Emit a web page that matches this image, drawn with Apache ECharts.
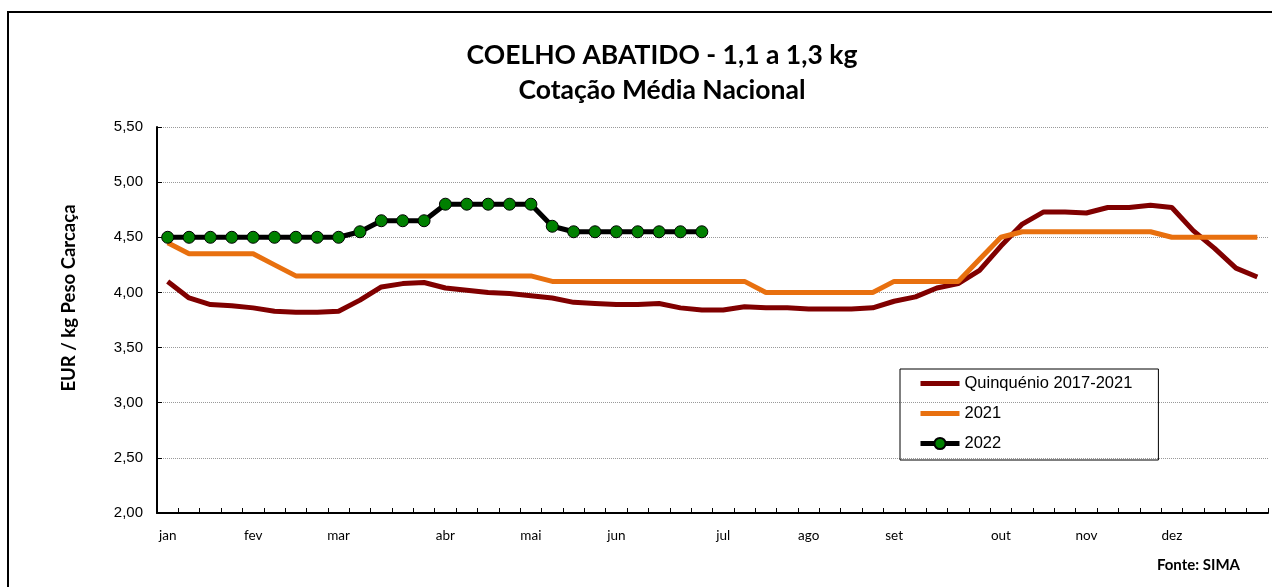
<!DOCTYPE html>
<html>
<head>
<meta charset="utf-8">
<script src="https://cdn.jsdelivr.net/npm/echarts@6/dist/echarts.min.js"></script>
<style>
html,body{margin:0;padding:0;background:#fff;}
#chart{width:1272px;height:587px;}
</style>
</head>
<body>
<div id="chart"></div>
<script>
// Weekly categories (52 weeks); month names on first week of each month
const weeks = ['jan','','','','fev','','','','mar','','','','','abr','','','','mai','','','','jun','','','','','jul','','','','ago','','','','set','','','','','out','','','','nov','','','','dez','','','',''];

const seriesNames = ['Quinquénio 2017-2021', '2021', '2022'];

const quinquenio = [4.10,3.95,3.89,3.88,3.86,3.83,3.82,3.82,3.83,3.93,4.05,4.08,4.09,4.04,4.02,4.00,3.99,3.97,3.95,3.91,3.90,3.89,3.89,3.90,3.86,3.84,3.84,3.87,3.86,3.86,3.85,3.85,3.85,3.86,3.92,3.96,4.04,4.08,4.20,4.42,4.62,4.73,4.73,4.72,4.77,4.77,4.79,4.77,4.56,4.40,4.22,4.14];

const y2021 = [4.45,4.35,4.35,4.35,4.35,4.25,4.15,4.15,4.15,4.15,4.15,4.15,4.15,4.15,4.15,4.15,4.15,4.15,4.10,4.10,4.10,4.10,4.10,4.10,4.10,4.10,4.10,4.10,4.00,4.00,4.00,4.00,4.00,4.00,4.10,4.10,4.10,4.10,4.30,4.50,4.55,4.55,4.55,4.55,4.55,4.55,4.55,4.50,4.50,4.50,4.50,4.50];

const y2022 = [4.50,4.50,4.50,4.50,4.50,4.50,4.50,4.50,4.50,4.55,4.65,4.65,4.65,4.80,4.80,4.80,4.80,4.80,4.60,4.55,4.55,4.55,4.55,4.55,4.55,4.55];

const titleLines = ['COELHO ABATIDO - 1,1 a 1,3 kg', 'Cotação Média Nacional'];
const yAxisTitle = 'EUR / kg Peso Carcaça';
const sourceText = 'Fonte: SIMA';

const chart = echarts.init(document.getElementById('chart'), null, {renderer: 'canvas'});

const option = {
  backgroundColor: '#ffffff',
  animation: false,
  grid: {left: 157, right: 4, top: 127, bottom: 74, containLabel: false},
  graphic: [
    {type: 'rect', shape: {x: 8, y: 12, width: 1400, height: 800}, style: {fill: 'none', stroke: '#000', lineWidth: 2}, silent: true, z: 0},
    {type: 'text', x: 662, y: 55, style: {text: titleLines[0], textAlign: 'center', textVerticalAlign: 'middle', font: 'bold 26.5px Lato', fill: '#000'}},
    {type: 'text', x: 662, y: 90, style: {text: titleLines[1], textAlign: 'center', textVerticalAlign: 'middle', font: 'bold 26.5px Lato', fill: '#000'}},
    {type: 'text', x: 69, y: 298, rotation: Math.PI / 2, style: {text: yAxisTitle, textAlign: 'center', textVerticalAlign: 'middle', font: 'bold 18.5px Lato', fill: '#000'}},
    {type: 'text', x: 1240, y: 565, style: {text: sourceText, textAlign: 'right', textVerticalAlign: 'middle', font: 'bold 15px Lato', fill: '#000'}}
  ],
  legend: {
    orient: 'vertical',
    left: 900,
    top: 369,
    padding: [6, 26, 8, 18],
    itemWidth: 39,
    itemHeight: 14,
    itemGap: 13,
    borderColor: '#000',
    borderWidth: 1,
    backgroundColor: 'transparent',
    textStyle: {fontFamily: 'Liberation Sans, Arial', fontSize: 16.5, color: '#000', lineHeight: 16},
    data: [
      {name: seriesNames[0], itemStyle: {opacity: 0}, lineStyle: {width: 5}},
      {name: seriesNames[1], itemStyle: {opacity: 0}, lineStyle: {width: 5}},
      {name: seriesNames[2], lineStyle: {width: 5}}
    ]
  },
  xAxis: {
    type: 'category',
    data: weeks,
    boundaryGap: true,
    axisLine: {show: true, lineStyle: {color: '#000', width: 2}},
    axisTick: {show: true, inside: true, length: 5, interval: 0, lineStyle: {color: '#000', width: 1}},
    axisLabel: {interval: 0, margin: 16, fontFamily: 'Lato', fontSize: 13.5, color: '#000'},
    splitLine: {show: false}
  },
  yAxis: {
    type: 'value',
    min: 2,
    max: 5.5,
    interval: 0.5,
    axisLine: {show: true, lineStyle: {color: '#000', width: 2}},
    axisTick: {show: true, inside: true, length: 5, lineStyle: {color: '#000'}},
    axisLabel: {margin: 14, fontFamily: 'Liberation Sans, Arial', fontSize: 15, color: '#000',
      formatter: v => v.toFixed(2).replace('.', ',')},
    splitLine: {show: true, lineStyle: {color: '#999', type: 'dotted', width: 1}}
  },
  series: [
    {name: seriesNames[0], type: 'line', data: quinquenio, symbol: 'none', showSymbol: false,
      lineStyle: {color: '#800000', width: 5}, itemStyle: {color: '#800000'}, z: 2},
    {name: seriesNames[1], type: 'line', data: y2021, symbol: 'none', showSymbol: false,
      lineStyle: {color: '#E8700F', width: 5}, itemStyle: {color: '#E8700F'}, z: 3},
    {name: seriesNames[2], type: 'line', data: y2022, symbol: 'circle', symbolSize: 12, showSymbol: true,
      lineStyle: {color: '#000', width: 5}, itemStyle: {color: '#008000', borderColor: '#000', borderWidth: 1}, z: 4}
  ]
};
chart.setOption(option);
</script>
</body>
</html>
